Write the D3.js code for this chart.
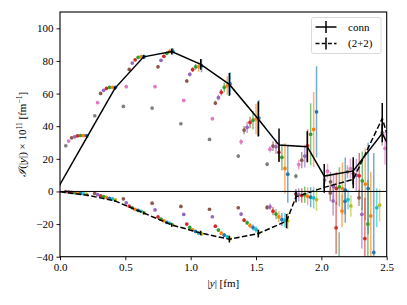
<!DOCTYPE html>
<html>
<head>
<meta charset="utf-8">
<title>conn vs (2+2)</title>
<script src="https://cdn.jsdelivr.net/npm/d3@7"></script>
<style>
  body { margin: 0; background: #fff; }
  svg text { font-family: "Liberation Serif", "DejaVu Serif", serif; fill: #000; }
  .tick text { font-size: 11px; }
  .tick line { stroke: #000; stroke-width: 0.9px; }
</style>
</head>
<body>
<div id="chart"></div>
<script>
// ---- data ----
var seriesShift = [0, 0.022, 0.045, 0.068, 0.090, 0.113, 0.136, 0.158];

var upColors = ["#7f7f7f", "#e377c2", "#8c564b", "#9467bd", "#d62728", "#2ca02c", "#ff7f0e", "#1f77b4"];
var upBase = [0.044, 0.266, 0.485, 0.705, 0.925, 1.144, 1.364, 1.585, 1.805, 2.025, 2.200, 2.465];
var upY = [
  [28, 30.9, 32.9, 33.5, 34.1, 34.3, 34.3, 34.3],
  [46.4, 54.4, 60.1, 62, 63.2, 63.8, 63.8, 63.8],
  [52.1, 64.2, 74.8, 78.7, 80.7, 82.2, 82.6, 82.6],
  [51.1, 64.2, 76.4, 80.4, 82.8, 84.7, 85.9, 86],
  [41.5, 55.8, 67.7, 71.8, 74.7, 76.4, 76.4, 77],
  [31.9, 44.6, 54.2, 57.5, 60.8, 63.8, 64.8, 66],
  [21.7, 30.4, 37.6, 39.3, 42.3, 43.7, 44.4, 45],
  [16.7, 25.9, 27.8, 27.4, 24, 20.9, 14.1, 10.6],
  [9.4, 16.5, 19.2, 21.7, 28, 35, 38, 48.8],
  [7, 12.4, 5.9, 3, 1.8, 2.8, 1.8, 0.8],
  [12, 14, 11, 10, 9.6, 6.5, 4.5, 1.8],
  [36, 26.4, 33, 30, 28, 25, 20, 15]
];
var upErr = [
  [0.3, 0.3, 0.4, 0.4, 0.5, 0.5, 0.5, 0.5],
  [0.3, 0.4, 0.5, 0.5, 0.6, 0.7, 0.8, 0.9],
  [0.3, 0.4, 0.5, 0.6, 0.7, 0.8, 1, 1.2],
  [0.4, 0.5, 0.6, 0.8, 1, 1.2, 1.5, 2],
  [0.5, 0.7, 1, 1.2, 1.5, 1.8, 3, 4],
  [0.8, 1, 1.4, 1.8, 2, 3, 5.6, 7],
  [1, 1.8, 2.5, 3.5, 3.5, 5.6, 9.3, 11],
  [1.2, 2, 3, 4.5, 6, 8, 15.5, 17.6],
  [1.5, 3, 5, 7, 10, 19, 23, 28],
  [2.5, 4.6, 6, 8, 10, 12, 16, 20],
  [4, 6, 8, 10, 14, 18, 22, 28],
  [8, 10, 12, 14, 16, 18, 20, 22]
];

var loColors = ["#8c564b", "#9467bd", "#d62728", "#2ca02c", "#ff7f0e", "#1f77b4", "#17becf", "#bcbd22"];
var loBase = [0.044, 0.266, 0.485, 0.705, 0.925, 1.144, 1.364, 1.585, 1.805, 2.068, 2.288];
var loY = [
  [-0.1, -0.3, -0.6, -0.8, -1.0, -1.2, -1.4, -1.6],
  [-1.2, -2.0, -2.7, -3.2, -3.6, -4.2, -4.6, -5.2],
  [-4.5, -7, -9, -10, -11, -11.6, -12.2, -13],
  [-7.2, -11.3, -15.6, -17, -18, -19, -19.5, -20.5],
  [-9.2, -14.1, -20, -22, -23.5, -24.5, -25.5, -26],
  [-10.9, -15.5, -21.3, -23.7, -25.6, -26.8, -27.8, -29],
  [-10, -13.9, -17.6, -19.2, -20.9, -22.1, -23.3, -25.5],
  [-9.8, -9.4, -12.1, -13.9, -15.6, -17.2, -17.6, -18],
  [-1.5, -2, -2.5, -2, -3, -3.5, -4, -5],
  [-1, -5.8, -22.3, -45, -12, -6, -5, -8.9],
  [-3.9, -14, -28.9, -20, -15, -37.4, -10, -8.4]
];
var loErr = [
  [0.1, 0.1, 0.2, 0.2, 0.2, 0.3, 0.3, 0.3],
  [0.2, 0.2, 0.3, 0.3, 0.4, 0.4, 0.5, 0.5],
  [0.3, 0.3, 0.4, 0.4, 0.5, 0.5, 0.6, 0.6],
  [0.3, 0.4, 0.5, 0.5, 0.6, 0.7, 0.8, 0.8],
  [0.4, 0.5, 0.6, 0.7, 0.8, 0.9, 1, 1],
  [0.5, 0.6, 0.8, 0.9, 1, 1.2, 1.3, 1.4],
  [0.8, 1, 1.2, 1.4, 1.6, 1.8, 2, 2.2],
  [1.5, 2, 2.5, 3, 3.5, 4, 4.5, 5],
  [3, 4, 4.5, 5, 5.5, 6, 6.5, 7],
  [5, 9, 16, 20, 10, 8, 6, 6.6],
  [5, 21, 25, 27, 27, 61, 12, 10]
];

var connX = [0, 0.21, 0.42, 0.64, 0.855, 1.077, 1.296, 1.517, 1.676, 1.892, 2.022, 2.244, 2.466, 2.69];
var connY = [4.3, 33.8, 63.2, 82.5, 85.8, 77.9, 65.6, 44.4, 28.4, 27.4, 9.4, 12.6, 35.6, 1];
var connErr = [0.3, 0.4, 0.6, 0.8, 1.5, 2.9, 6.6, 10.3, 9.8, 9.2, 7, 8, 5, 15];

var discX = [0, 0.21, 0.42, 0.64, 0.855, 1.077, 1.296, 1.517, 1.734, 1.806, 2.022, 2.244, 2.466, 2.69];
var discY = [-0.2, -2.3, -5.8, -13.2, -20.5, -25.5, -29.3, -25.8, -18.2, -3.3, 2.5, 7.4, 44.8, -15];
var discErr = [0.1, 0.2, 0.3, 0.5, 0.7, 1.0, 1.7, 2.0, 4.0, 3.0, 3.0, 5.0, 9.0, 10];

var xTicks = [0, 0.5, 1, 1.5, 2, 2.5];
var yTicks = [-40, -20, 0, 20, 40, 60, 80, 100];

// ---- layout ----
var width = 407, height = 305,
    plotL = 60, plotR = 386.7, plotT = 12, plotB = 256.7;

var x = d3.scaleLinear().domain([0, 2.5]).range([plotL, plotR]);
var y = d3.scaleLinear().domain([-40, 110]).range([plotB, plotT]);

var svg = d3.select("#chart").append("svg")
    .attr("width", width)
    .attr("height", height);

svg.append("clipPath").attr("id", "plotclip")
  .append("rect")
    .attr("x", plotL).attr("y", plotT)
    .attr("width", plotR - plotL).attr("height", plotB - plotT);

var plot = svg.append("g").attr("clip-path", "url(#plotclip)");

// flatten the colored lattice points
function cloud(base, ys, errs, colors) {
  var pts = [];
  base.forEach(function(b, c) {
    ys[c].forEach(function(v, s) {
      if (v === null) return;
      pts.push({x: b + seriesShift[s], y: v, e: errs[c][s], col: colors[s]});
    });
  });
  return pts;
}
var pts = cloud(upBase, upY, upErr, upColors).concat(cloud(loBase, loY, loErr, loColors));

plot.selectAll(".cbar")
  .data(pts)
  .enter().append("line")
    .attr("class", "cbar")
    .attr("x1", function(d){ return x(d.x); })
    .attr("x2", function(d){ return x(d.x); })
    .attr("y1", function(d){ return y(d.y - d.e); })
    .attr("y2", function(d){ return y(d.y + d.e); })
    .attr("stroke", function(d){ return d.col; })
    .attr("stroke-width", 1.5)
    .attr("stroke-opacity", 0.62);

plot.selectAll(".cdot")
  .data(pts)
  .enter().append("circle")
    .attr("class", "cdot")
    .attr("cx", function(d){ return x(d.x); })
    .attr("cy", function(d){ return y(d.y); })
    .attr("r", 1.85)
    .attr("fill", function(d){ return d.col; });

// zero line
plot.append("line")
    .attr("x1", plotL).attr("x2", plotR)
    .attr("y1", y(0)).attr("y2", y(0))
    .attr("stroke", "#000").attr("stroke-width", 1);

// black curves with error bars
function curve(xs, ys, es, dash) {
  var cp = xs.map(function(v, i){ return {x: v, y: ys[i], e: es[i]}; });
  var line = d3.line().x(function(d){ return x(d.x); }).y(function(d){ return y(d.y); });
  plot.append("path")
      .datum(cp)
      .attr("d", line)
      .attr("fill", "none")
      .attr("stroke", "#000")
      .attr("stroke-width", 1.5)
      .attr("stroke-dasharray", dash);
  plot.selectAll(null)
    .data(cp)
    .enter().append("line")
      .attr("x1", function(d){ return x(d.x); })
      .attr("x2", function(d){ return x(d.x); })
      .attr("y1", function(d){ return y(d.y - d.e) + 0.6; })
      .attr("y2", function(d){ return y(d.y + d.e) - 0.6; })
      .attr("stroke", "#000")
      .attr("stroke-width", 1.5);
}
curve(connX, connY, connErr, null);
curve(discX, discY, discErr, "5.5,2.4");

// axes
var gx = svg.append("g")
    .attr("transform", "translate(0," + plotB + ")")
    .call(d3.axisBottom(x).tickValues(xTicks).tickSize(3.5).tickPadding(3)
      .tickFormat(d3.format(".1f")));
var gy = svg.append("g")
    .attr("transform", "translate(" + plotL + ",0)")
    .call(d3.axisLeft(y).tickValues(yTicks).tickSize(3.5).tickPadding(3)
      .tickFormat(function(d){ return d < 0 ? "\u2212" + Math.abs(d) : d; }));
gx.select(".domain").remove();
gy.select(".domain").remove();

svg.append("rect")
    .attr("x", plotL).attr("y", plotT)
    .attr("width", plotR - plotL).attr("height", plotB - plotT)
    .attr("fill", "none").attr("stroke", "#000").attr("stroke-width", 1.1);

// axis labels
var xl = svg.append("text")
    .attr("x", (plotL + plotR) / 2).attr("y", 287)
    .attr("text-anchor", "middle")
    .style("font-size", "11px");
xl.append("tspan").text("|");
xl.append("tspan").attr("font-style", "italic").text("y");
xl.append("tspan").text("|  [fm]");

var yl = svg.append("text")
    .attr("transform", "translate(26," + ((plotT + plotB) / 2) + ") rotate(-90)")
    .attr("text-anchor", "middle")
    .style("font-size", "11px");
yl.append("tspan").attr("font-style", "italic").attr("font-family", "DejaVu Serif").text("\u2110");
yl.append("tspan").text("(|");
yl.append("tspan").attr("font-style", "italic").text("y");
yl.append("tspan").text("|) \u00d7 10");
yl.append("tspan").attr("dy", -4).style("font-size", "7.5px").text("11");
yl.append("tspan").attr("dy", 4).text(" [fm");
yl.append("tspan").attr("dy", -4).style("font-size", "7.5px").text("\u22121");
yl.append("tspan").attr("dy", 4).text("]");

// legend
var lg = svg.append("g").attr("transform", "translate(311.5,17.5)");
lg.append("rect")
    .attr("width", 69.5).attr("height", 36)
    .attr("rx", 2).attr("fill", "#fff").attr("fill-opacity", 0.8)
    .attr("stroke", "#d0d0d0").attr("stroke-width", 0.8);
var entries = [{label: "conn", dash: null}, {label: "(2+2)", dash: "5.5,2.4"}];
entries.forEach(function(e, i) {
  var cy = 9.5 + i * 16.5;
  lg.append("line")
      .attr("x1", 4).attr("x2", 25).attr("y1", cy).attr("y2", cy)
      .attr("stroke", "#000").attr("stroke-width", 1.5)
      .attr("stroke-dasharray", e.dash ? "4,2.2" : null);
  lg.append("line")
      .attr("x1", 14.5).attr("x2", 14.5).attr("y1", cy - 6).attr("y2", cy + 6)
      .attr("stroke", "#000").attr("stroke-width", 1.5);
  lg.append("text")
      .attr("x", 36.5).attr("y", cy + 3.5)
      .style("font-size", "11px")
      .text(e.label);
});
</script>
</body>
</html>
